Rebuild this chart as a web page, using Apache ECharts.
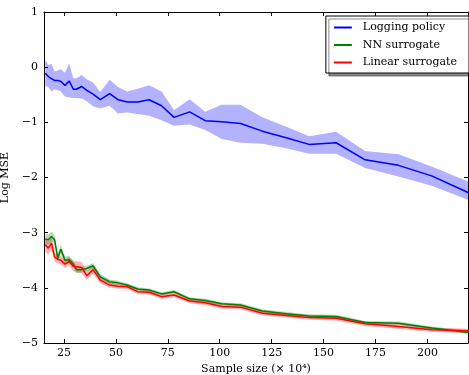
<!DOCTYPE html>
<html>
<head>
<meta charset="utf-8">
<script src="https://cdn.jsdelivr.net/npm/echarts@6/dist/echarts.min.js"></script>
<style>
  html, body { margin: 0; padding: 0; background: #fff; }
  #chart { width: 469px; height: 375px; }
</style>
</head>
<body>
<div id="chart"></div>
<script>
// sample sizes (x 10^4)
const sampleSize = [16, 17.5, 19, 20.5, 22, 23.5, 25.5, 27.5, 29.5, 31, 33.5, 36, 39, 42.5, 47, 51, 55.5, 60.5, 66, 72, 78, 85.5, 93, 101, 110, 120.5, 132, 143, 156, 170, 186, 202, 220];

const loggingMean = [-0.11, -0.17, -0.21, -0.24, -0.24, -0.26, -0.33, -0.25, -0.40, -0.40, -0.35, -0.42, -0.49, -0.59, -0.48, -0.59, -0.63, -0.63, -0.59, -0.70, -0.91, -0.81, -0.97, -0.99, -1.02, -1.16, -1.28, -1.40, -1.37, -1.68, -1.78, -1.97, -2.28];
const loggingUpper = [0.13, 0.04, 0.06, -0.08, -0.06, -0.04, -0.10, 0.07, -0.20, -0.20, -0.14, -0.22, -0.28, -0.45, -0.23, -0.36, -0.44, -0.39, -0.33, -0.44, -0.78, -0.58, -0.81, -0.68, -0.68, -0.91, -1.08, -1.25, -1.17, -1.52, -1.58, -1.80, -2.08];
const loggingLower = [-0.34, -0.36, -0.44, -0.40, -0.42, -0.44, -0.53, -0.55, -0.56, -0.56, -0.57, -0.62, -0.71, -0.75, -0.70, -0.84, -0.82, -0.85, -0.88, -0.96, -1.06, -1.04, -1.14, -1.30, -1.37, -1.39, -1.47, -1.57, -1.57, -1.83, -1.98, -2.15, -2.41];

const nnMean = [-3.12, -3.13, -3.07, -3.13, -3.46, -3.30, -3.50, -3.49, -3.57, -3.67, -3.67, -3.65, -3.60, -3.80, -3.89, -3.91, -3.95, -4.02, -4.04, -4.11, -4.07, -4.20, -4.23, -4.29, -4.31, -4.42, -4.47, -4.51, -4.52, -4.63, -4.64, -4.73, -4.81];
const nnUpper = [-3.02, -3.04, -2.98, -3.05, -3.38, -3.22, -3.43, -3.42, -3.51, -3.61, -3.62, -3.60, -3.55, -3.75, -3.85, -3.87, -3.92, -3.99, -4.01, -4.08, -4.04, -4.17, -4.20, -4.26, -4.28, -4.39, -4.44, -4.48, -4.49, -4.60, -4.61, -4.70, -4.78];
const nnLower = [-3.22, -3.22, -3.16, -3.20, -3.53, -3.38, -3.57, -3.56, -3.63, -3.73, -3.72, -3.70, -3.65, -3.85, -3.93, -3.95, -3.98, -4.05, -4.07, -4.14, -4.10, -4.23, -4.26, -4.32, -4.34, -4.45, -4.50, -4.54, -4.55, -4.66, -4.67, -4.76, -4.84];

const linMean = [-3.22, -3.28, -3.19, -3.44, -3.48, -3.50, -3.57, -3.52, -3.61, -3.62, -3.63, -3.78, -3.67, -3.86, -3.95, -3.97, -3.98, -4.07, -4.08, -4.16, -4.13, -4.24, -4.27, -4.34, -4.35, -4.46, -4.50, -4.54, -4.55, -4.65, -4.70, -4.76, -4.78];
const linUpper = [-3.10, -3.16, -3.08, -3.36, -3.40, -3.42, -3.50, -3.44, -3.52, -3.52, -3.53, -3.70, -3.60, -3.80, -3.90, -3.93, -3.94, -4.03, -4.04, -4.12, -4.09, -4.20, -4.23, -4.30, -4.31, -4.42, -4.46, -4.50, -4.51, -4.61, -4.66, -4.72, -4.74];
const linLower = [-3.34, -3.40, -3.30, -3.52, -3.56, -3.58, -3.64, -3.60, -3.70, -3.72, -3.73, -3.86, -3.74, -3.92, -4.00, -4.01, -4.02, -4.11, -4.12, -4.20, -4.17, -4.28, -4.31, -4.38, -4.39, -4.50, -4.54, -4.58, -4.59, -4.69, -4.74, -4.80, -4.82];

const xTicks = [25, 50, 75, 100, 125, 150, 175, 200];

const FONT = 'DejaVu Serif';
const X_MIN = 15.4, X_MAX = 219.5;

const pairs = (ys) => sampleSize.map((x, i) => [x, ys[i]]);

// filled band between lower and upper, drawn as one polygon
const band = (name, upper, lower, fill) => ({
  name: name,
  type: 'custom',
  clip: true,
  silent: true,
  z: 1,
  data: sampleSize.map((x, i) => [x, upper[i], lower[i]]),
  encode: { x: 0, y: [1, 2] },
  renderItem: function (params, api) {
    if (params.dataIndex !== 0) return;
    const top = sampleSize.map((x, i) => api.coord([x, upper[i]]));
    const bottom = sampleSize.map((x, i) => api.coord([x, lower[i]])).reverse();
    return {
      type: 'polygon',
      shape: { points: top.concat(bottom) },
      style: { fill: fill, stroke: null }
    };
  }
});

const line = (name, ys, color) => ({
  name: name,
  type: 'line',
  data: pairs(ys),
  symbol: 'none',
  z: 3,
  lineStyle: { color: color, width: 1.5 },
  itemStyle: { color: color }
});

const axisBase = {
  axisLine: { show: true, onZero: false, lineStyle: { color: '#000', width: 1 } },
  splitLine: { show: false }
};

const chart = echarts.init(document.getElementById('chart'));
chart.setOption({
  animation: false,
  textStyle: { fontFamily: FONT },
  grid: { left: 44, right: 1, top: 12, bottom: 32, outerBoundsMode: 'none', containLabel: false },
  legend: {
    data: ['Logging policy', 'NN surrogate', 'Linear surrogate'],
    orient: 'vertical',
    right: 0,
    top: 16,
    padding: [6, 12, 5, 7],
    itemWidth: 18,
    itemHeight: 13,
    itemGap: 6.5,
    itemStyle: { opacity: 0 },
    backgroundColor: '#fff',
    borderColor: '#000',
    borderWidth: 1,
    borderRadius: 0,
    shadowColor: 'rgba(0,0,0,0.45)',
    shadowBlur: 0,
    shadowOffsetX: 3,
    shadowOffsetY: 3,
    textStyle: { fontFamily: FONT, fontSize: 11, color: '#000', padding: [0, 0, 0, 6] }
  },
  xAxis: [Object.assign({}, axisBase, {
    type: 'value',
    min: X_MIN,
    max: X_MAX,
    name: 'Sample size (× 10⁴)',
    nameLocation: 'middle',
    nameGap: 21,
    nameTextStyle: { fontFamily: FONT, fontSize: 11, color: '#000' },
    axisTick: { inside: true, length: 4, customValues: xTicks, lineStyle: { color: '#000' } },
    axisLabel: { customValues: xTicks, fontFamily: FONT, fontSize: 11, color: '#000', margin: 5 }
  }), Object.assign({}, axisBase, {
    type: 'value',
    position: 'top',
    min: X_MIN,
    max: X_MAX,
    axisTick: { inside: true, length: 4, customValues: xTicks, lineStyle: { color: '#000' } },
    axisLabel: { show: false }
  })],
  yAxis: [Object.assign({}, axisBase, {
    type: 'value',
    min: -5,
    max: 1,
    interval: 1,
    name: 'Log MSE',
    nameLocation: 'middle',
    nameRotate: 90,
    nameGap: 29,
    nameTextStyle: { fontFamily: FONT, fontSize: 11, color: '#000' },
    axisTick: { show: true, inside: true, length: 4, lineStyle: { color: '#000' } },
    axisLabel: {
      fontFamily: FONT, fontSize: 11, color: '#000', margin: 6,
      formatter: (v) => String(v).replace('-', '\u2212')
    }
  }), Object.assign({}, axisBase, {
    type: 'value',
    position: 'right',
    min: -5,
    max: 1,
    interval: 1,
    axisTick: { show: true, inside: true, length: 4, lineStyle: { color: '#000' } },
    axisLabel: { show: false }
  })],
  series: [
    band('Logging policy band', loggingUpper, loggingLower, 'rgba(0,0,255,0.3)'),
    band('NN surrogate band', nnUpper, nnLower, 'rgba(0,128,0,0.3)'),
    band('Linear surrogate band', linUpper, linLower, 'rgba(255,0,0,0.3)'),
    line('Logging policy', loggingMean, '#0000ff'),
    line('NN surrogate', nnMean, '#008000'),
    line('Linear surrogate', linMean, '#ff0000')
  ]
});
</script>
</body>
</html>
